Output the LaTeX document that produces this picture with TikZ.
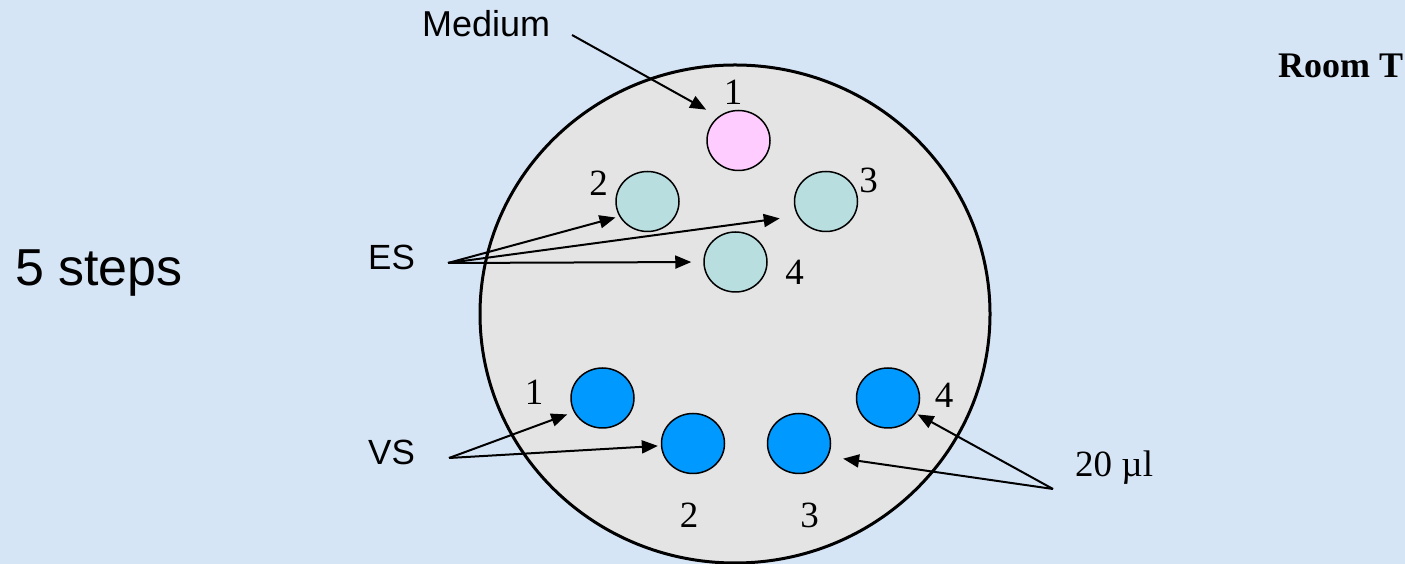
\documentclass[tikz,border=0pt]{standalone}
\usepackage{fontspec}
\setmainfont{Liberation Serif}
\setsansfont{Liberation Sans}
\usetikzlibrary{arrows.meta,shapes.geometric}
\definecolor{bgblue}{RGB}{214,229,246}
\definecolor{dishgrey}{RGB}{228,228,228}
\definecolor{wellpink}{RGB}{255,204,255}
\definecolor{wellteal}{RGB}{184,222,224}
\definecolor{wellblue}{RGB}{0,153,255}
\tikzset{
  well/.style={ellipse,draw=black,line width=1.5pt,minimum width=63pt,minimum height=60pt,inner sep=0pt},
  num/.style={font=\fontsize{37}{37}\selectfont,inner sep=0pt,anchor=base},
  sanslabel/.style={font=\sffamily\fontsize{36}{36}\selectfont,inner sep=0pt,anchor=base west},
  arr/.style={line width=2pt,-{Triangle[length=16pt,width=13pt]}}
}
\begin{document}
\begin{tikzpicture}[x=1pt,y=1pt]
\useasboundingbox (0,0) rectangle (1405,564);
\fill[bgblue] (0,0) rectangle (1405,564);
% dish
\node[ellipse,draw=black,line width=3pt,fill=dishgrey,minimum width=510pt,minimum height=498pt,inner sep=0pt] (dish) at (735,250) {};
% wells
\node[well,fill=wellpink] (p1) at (738.5,423.5) {};
\node[well,fill=wellteal] (t2) at (647.5,362.5) {};
\node[well,fill=wellteal] (t3) at (826,362.5) {};
\node[well,fill=wellteal] (t4) at (735.5,302) {};
\node[well,fill=wellblue] (b1) at (602.5,166) {};
\node[well,fill=wellblue] (b2) at (693,120.5) {};
\node[well,fill=wellblue] (b3) at (799,120.5) {};
\node[well,fill=wellblue] (b4) at (888,166) {};
% well numbers
\node[num] (np1) at (733,459) {1};
\node[num] (nt2) at (598.5,368) {2};
\node[num] (nt3) at (868.5,371) {3};
\node[num] (nt4) at (794.5,279) {4};
\node[num] (nb1) at (534,159) {1};
\node[num] (nb2) at (689,36) {2};
\node[num] (nb3) at (809.5,36) {3};
\node[num] (nb4) at (944,156) {4};
% labels
\node[sanslabel] (medium) at (422,527) {Medium};
\node[sanslabel,font=\sffamily\fontsize{52}{52}\selectfont] (steps) at (15,278) {5 steps};
\node[sanslabel,font=\sffamily\fontsize{35}{35}\selectfont] (es) at (368,294) {ES};
\node[sanslabel,font=\sffamily\fontsize{35}{35}\selectfont] (vs) at (368,99) {VS};
\node[num,anchor=base west] (ul) at (1075,87) {20 µl};
\node[num,anchor=base west,font=\bfseries\fontsize{36}{36}\selectfont] (room) at (1278,486) {Room T};
% arrow start points
\coordinate (medS) at (572,529);
\coordinate (esS) at (448,301);
\coordinate (vsS) at (449,106);
\coordinate (ulS) at (1053,75);
% arrows
\draw[arr,shorten >=14pt] (medS) -- (p1.130);
\draw[arr,shorten >=4pt] (esS) -- (t2.208);
\draw[arr,shorten >=18pt] (esS) -- (t3.207);
\draw[arr,shorten >=12pt] (esS) -- (t4.west);
\draw[arr,shorten >=7pt] (vsS) -- (b1.206);
\draw[arr,shorten >=3pt] (vsS) -- (b2.184);
\draw[arr,shorten >=2pt] (ulS) -- (b4.331);
\draw[arr,shorten >=15pt] (ulS) -- (b3.336);
\end{tikzpicture}
\end{document}
